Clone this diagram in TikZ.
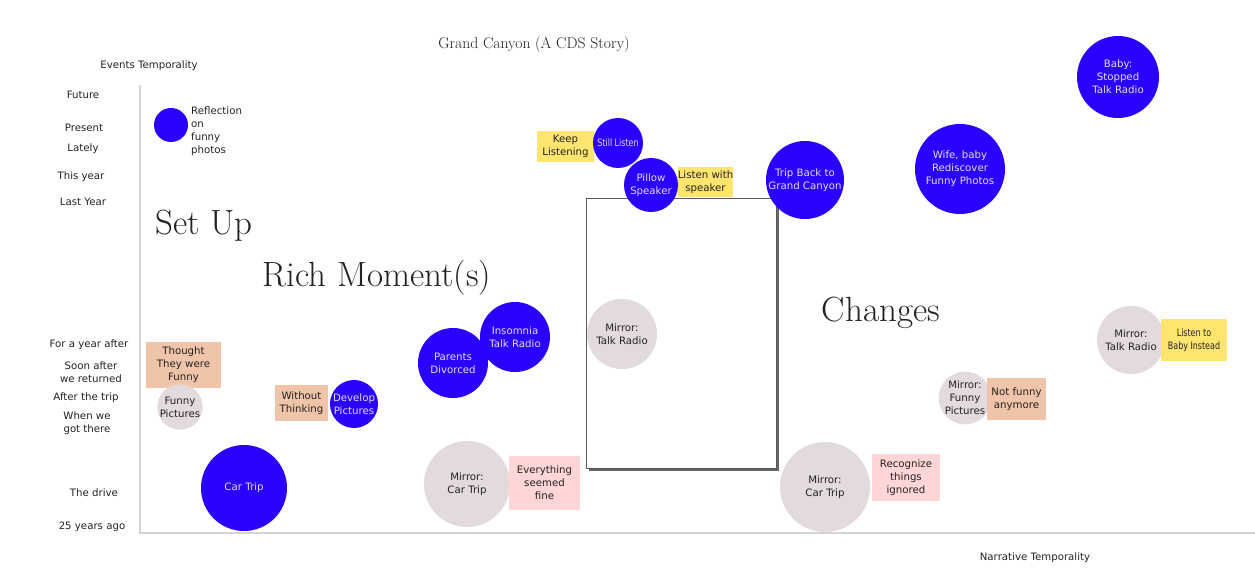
\documentclass[tikz,border=0pt]{standalone}
\usepackage{fontspec}
\setmainfont{Latin Modern Roman}
\newfontfamily\dv{DejaVu Sans}
\newfontfamily\dvc[FakeStretch=0.78]{DejaVu Sans}
\definecolor{cblue}{HTML}{2B00FF}
\definecolor{ctxt}{HTML}{E4DCFF}
\definecolor{cgray}{HTML}{E3DADB}
\definecolor{cpeach}{HTML}{F0C4A8}
\definecolor{cpink}{HTML}{FFD5D5}
\definecolor{cyel}{HTML}{FFE56E}
\definecolor{caxis}{HTML}{D4D4D4}
\definecolor{ctk}{HTML}{222222}
\tikzset{
  lbl/.style={font=\dv\fontsize{10.2}{13}\selectfont, text=ctk, align=center, inner sep=0},
  bub/.style={circle, fill=cblue, lbl, text=ctxt, minimum size=#1},
  gbub/.style={circle, fill=cgray, lbl, minimum size=#1},
  box/.style={lbl, fill=#1},
  big/.style={font=\fontsize{35}{38}\selectfont, inner sep=0, text=ctk},
}
\begin{document}
\begin{tikzpicture}[x=1pt,y=-1pt]
\useasboundingbox (0,0) rectangle (1255,577);
% axes
\coordinate (ytop) at (140,85);
\coordinate (orig) at (140,533);
\coordinate (xend) at (1255,533);
\draw[caxis, line width=1.2pt] (ytop) -- (orig) -- (xend);
% titles
\node[font=\fontsize{15.6}{17}\selectfont, text=ctk] (title) at (534,45) {Grand Canyon (A CDS Story)};
\node[lbl] (evt) at (149,66) {Events Temporality};
\node[lbl] (nar) at (1035,558) {Narrative Temporality};
% y labels
\node[lbl] (y1) at (83,95) {Future};
\node[lbl] (y2) at (84,128) {Present};
\node[lbl] (y3) at (83,149) {Lately};
\node[lbl] (y4) at (81,177) {This year};
\node[lbl] (y5) at (83,202) {Last Year};
\node[lbl] (y6) at (89,345) {For a year after};
\node[lbl] (y7) at (91,372) {Soon after\\we returned};
\node[lbl] (y8) at (86,398) {After the trip};
\node[lbl] (y9) at (87,423) {When we\\got there};
\node[lbl] (y10) at (94,493) {The drive};
\node[lbl] (y11) at (92,527) {25 years ago};
% section titles
\node[big] (setup) at (204,226) {Set Up};
\node[big] (rich) at (377,278) {Rich Moment(s)};
\node[big] (chg) at (881,313) {Changes};
% rectangle with shadow
\fill[gray!80!black] (589,202) rectangle (779,471);
\draw[gray!70!black, fill=white, line width=1pt] (586,199) rectangle (776,468);
% left part
\node[bub=34pt] (refl) at (171,125) {};
\node[lbl, align=left, anchor=west] (refltxt) at (191,131) {Reflection\\on\\funny\\photos};
\node[box=cpeach, minimum width=75pt, minimum height=46pt] (thought) at (183.5,365) {Thought\\They were\\Funny};
\node[gbub=40pt] (funny) at (180,407) {Funny\\Pictures};
\node[box=cpeach, minimum width=53pt, minimum height=36pt] (without) at (301.5,403) {Without\\Thinking};
\node[bub=48pt] (develop) at (354,404) {Develop\\Pictures};
\node[bub=86pt] (car) at (244,488) {Car Trip};
\node[bub=70pt] (parents) at (453,363) {Parents\\Divorced};
\node[bub=70pt] (insomnia) at (515,337) {Insomnia\\Talk Radio};
\node[gbub=86pt] (mcar1) at (467,484) {Mirror:\\Car Trip};
\node[box=cpink, minimum width=71pt, minimum height=54pt] (every) at (544.5,483) {Everything\\seemed\\fine};
% middle
\node[gbub=70pt] (mtalk1) at (622,334) {Mirror:\\Talk Radio};
\node[box=cyel, minimum width=57pt, minimum height=31pt] (keep) at (565.5,146.5) {Keep\\Listening};
\node[bub=50pt, font=\dvc\fontsize{10.2}{13}\selectfont] (still) at (618,143) {Still Listen};
\node[bub=54pt] (pillow) at (651,185) {Pillow\\Speaker};
\node[box=cyel, minimum width=55pt, minimum height=30pt] (lws) at (705.5,182) {Listen with\\speaker};
\node[bub=78pt] (tripback) at (805,180) {Trip Back to\\Grand Canyon};
\node[bub=90pt] (wife) at (960,169) {Wife, baby\\Rediscover\\Funny Photos};
\node[bub=82pt] (baby) at (1118,77) {Baby:\\Stopped\\Talk Radio};
% right
\node[gbub=68pt] (mtalk2) at (1131,340) {Mirror:\\Talk Radio};
\node[box=cyel, minimum width=66pt, minimum height=42pt, font=\dvc\fontsize{10.2}{13}\selectfont] (lbaby) at (1194,340) {Listen to\\Baby Instead};
\node[gbub=50pt] (mfunny) at (965,398) {Mirror:\\Funny\\Pictures};
\node[box=cpeach, minimum width=59pt, minimum height=42pt] (notfunny) at (1016.5,399) {Not funny\\anymore};
\node[gbub=90pt] (mcar2) at (825,487) {Mirror:\\Car Trip};
\node[box=cpink, minimum width=68pt, minimum height=47pt] (recog) at (906,477.5) {Recognize\\things\\ignored};
\end{tikzpicture}
\end{document}
